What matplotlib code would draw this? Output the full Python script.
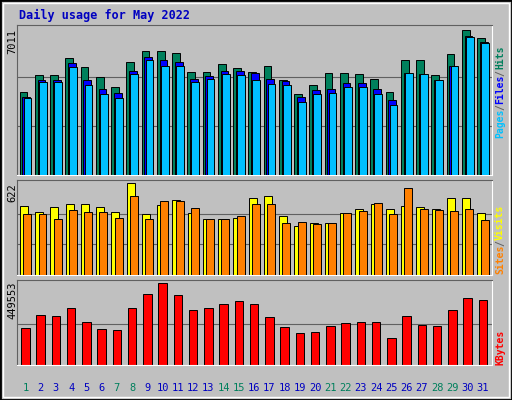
import matplotlib
matplotlib.use("Agg")
import matplotlib.pyplot as plt
import numpy as np

days = list(range(1, 32))
hits = [3934,4768,4768,5579,5149,4673,4196,5389,5914,5914,5818,4911,4911,5293,5102,4911,5197,4530,3862,4291,4864,4864,4816,4578,3958,5484,5484,4768,5770,6916,6534]
files = [3720,4530,4530,5340,4530,4100,3910,4960,5630,5480,5390,4580,4720,4960,4960,4860,4580,4500,3720,4050,4100,4390,4390,4100,3580,4860,4820,4530,5200,6630,6340]
pages = [3672,4435,4435,5150,4292,3862,3672,4816,5484,5197,5197,4435,4578,4816,4768,4530,4340,4292,3481,3862,3910,4196,4196,3862,3338,4864,4816,4530,5197,6583,6297]
visits = [462,427,456,479,479,456,427,622,410,473,508,421,381,381,387,519,536,398,329,352,352,421,444,479,444,462,456,444,519,519,421]
sites = [410,410,375,439,427,427,387,531,375,496,502,450,375,375,398,479,479,352,358,346,352,421,433,485,410,589,444,439,433,444,369]
kbytes = [205000,277000,272000,311000,239000,200000,194000,311000,389000,449553,383000,300000,311000,333000,350000,333000,266000,211000,177000,183000,216000,233000,239000,239000,150000,272000,222000,216000,305000,366000,355000]

BG = "#C0C0C0"
fig = plt.figure(figsize=(5.12, 4.0), dpi=100, facecolor=BG)
W, H = 512, 400
def ax_at(x0, y0, x1, y1):
    a = fig.add_axes([x0/W, 1-y1/H, (x1-x0)/W, (y1-y0)/H])
    a.set_facecolor(BG)
    a.set_xticks([]); a.set_yticks([])
    for s in ("top", "left"):
        a.spines[s].set_color("#606060")
    for s in ("bottom", "right"):
        a.spines[s].set_color("white")
    a.set_xlim(0.45, 31.6)
    return a

fig.add_artist(plt.Rectangle((0, 0), 1, 1, transform=fig.transFigure, fill=False, ec="black", lw=2))
fig.add_artist(plt.Rectangle((3/W, 3/H), 506/W, 394/H, transform=fig.transFigure, fill=False, ec="white", lw=1))

x = np.array(days, dtype=float)
mono = "DejaVu Sans Mono"

a1 = ax_at(17, 25, 492, 175)
a1.set_ylim(0, 7011 * 1.02)
for g in (7011/3, 7011*2/3):
    a1.axhline(g, color="#606060", lw=0.8, zorder=0)
a1.bar(x - 0.12, hits, 0.5, color="#00805C", ec="black", lw=0.7, zorder=2)
a1.bar(x + 0.06, files, 0.5, color="#0000FF", ec="black", lw=0.7, zorder=3)
a1.bar(x + 0.14, pages, 0.5, color="#00C0FF", ec="black", lw=0.7, zorder=4)

a2 = ax_at(17, 180, 492, 275)
a2.set_ylim(0, 622 * 1.03)
for g in (622/3, 622*2/3):
    a2.axhline(g, color="#606060", lw=0.8, zorder=0)
a2.bar(x - 0.1, visits, 0.52, color="#FFFF00", ec="black", lw=0.7, zorder=2)
a2.bar(x + 0.12, sites, 0.52, color="#FF8000", ec="black", lw=0.7, zorder=3)

a3 = ax_at(17, 280, 492, 365)
a3.set_ylim(0, 449553 * 1.04)
a3.axhline(449553/2, color="#606060", lw=0.8, zorder=0)
a3.bar(x, kbytes, 0.55, color="#FF0000", ec="black", lw=0.7, zorder=2)

fig.text(19/W, 1-15/H, "Daily usage for May 2022", color="#0000C0", fontsize=8.5, fontweight="bold", family=mono, va="center")
fig.text(12/W, 1-42/H, "7011", rotation=90, fontsize=7.5, family=mono, ha="center", va="center")
fig.text(12/W, 1-193/H, "622", rotation=90, fontsize=7.5, family=mono, ha="center", va="center")
fig.text(12/W, 1-300/H, "449553", rotation=90, fontsize=7.5, family=mono, ha="center", va="center")

CW = 5.4
def side(parts, ybot):
    y = ybot
    for t, c in parts:
        fig.text(500/W, 1-y/H, t, rotation=90, color=c, fontsize=7, family=mono, fontweight="bold", ha="center", va="bottom")
        y -= len(t) * CW + 1
side([("Pages", "#00C0FF"), ("/", "#606060"), ("Files", "#0000FF"), ("/", "#606060"), ("Hits", "#00805C")], 138)
side([("Sites", "#FF8000"), ("/", "#606060"), ("Visits", "#FFFF00")], 274)
side([("KBytes", "#FF0000")], 365)

weekend = {1, 7, 8, 14, 15, 21, 22, 28, 29}
for d in days:
    px = 17 + (d - 0.45) / (31.6 - 0.45) * 475
    fig.text(px/W, 1-388/H, str(d), color="#00805C" if d in weekend else "#0000C0",
             fontsize=7.5, family=mono, ha="center", va="center")

fig.savefig("out.png", dpi=100, facecolor=BG)
